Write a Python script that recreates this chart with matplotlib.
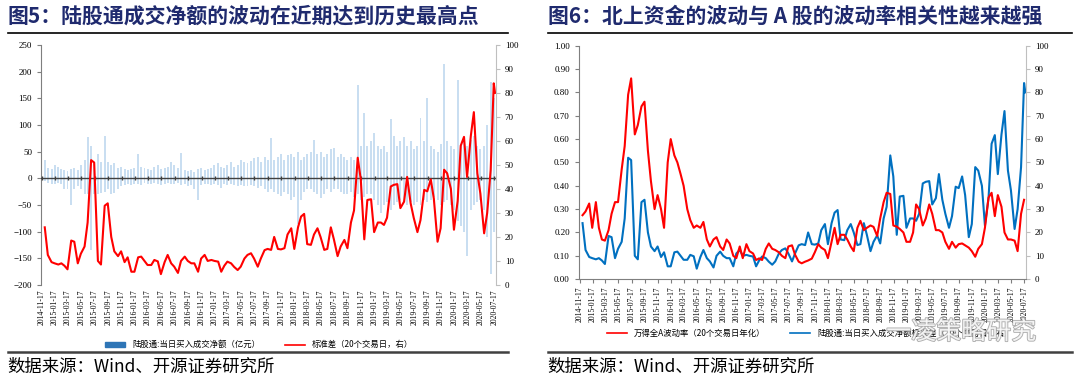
import pandas as pd
import numpy as np
import matplotlib
matplotlib.use("Agg")
import matplotlib.pyplot as plt
from matplotlib.patches import Patch
from matplotlib.lines import Line2D
import matplotlib.patheffects as pe

plt.rcParams['font.family'] = ['Liberation Serif', 'Noto Sans CJK SC', 'DejaVu Sans']
CJK = ['Noto Sans CJK SC', 'DejaVu Sans']

# ========== 数据（半月采样，读图估计） ==========
dates = pd.date_range('2014-11-15', periods=137, freq='SMS')
std_dates = dates.append(pd.DatetimeIndex(['2020-07-21']))
tick_dates = pd.date_range('2014-11-17', '2020-07-17', freq=pd.DateOffset(months=2))

# 陆股通:当日买入成交净额标准差（20个交易日）
std20 = [np.nan, 24, 12.5, 9.5, 9, 8.5, 9, 8, 6.5, 18.5, 18, 9, 13, 16, 26, 52, 51, 10, 8.5, 33,
         34, 20, 14, 12, 14, 9.5, 11.5, 5.5, 5.5, 11.5, 11.8, 10, 8.3, 8.3, 10.4, 9.8, 4.5, 9.5, 12.5, 9,
         7.6, 5, 10, 11.8, 10, 9, 9, 5.5, 11, 12.5, 10, 10.4, 10, 9.7, 5.5, 8, 9.7, 9, 7.5, 6.2,
         7.6, 11, 12.5, 13.2, 11, 7.6, 11, 14.5, 15, 14.6, 20, 15, 14.8, 15.3, 21, 23.6, 15, 24, 28.5, 29.6,
         17, 16.7, 21, 23.6, 20, 14.6, 15, 24, 19, 12, 16, 18.75, 15.3, 26, 31, 53, 44, 19, 35.4, 35.7,
         22, 26, 26, 25, 28, 41, 41.7, 42, 32, 34.7, 45, 34, 28, 22, 27, 39.6, 39, 44, 36, 18,
         23.6, 48, 46.5, 40, 23, 35, 58, 61.7, 45, 62, 72, 46.5, 38, 21.5, 30, 48, 84, 80]

# 万得全A波动率（20个交易日年化）
wind_vol = [np.nan, 0.274, 0.29, 0.324, 0.22, 0.33, 0.22, 0.17, 0.165, 0.21, 0.28, 0.33, 0.33, 0.47, 0.57, 0.79,
            0.86, 0.62, 0.66, 0.74, 0.76, 0.55, 0.42, 0.30, 0.36, 0.30, 0.22, 0.50, 0.60, 0.53, 0.50, 0.45,
            0.40, 0.30, 0.253, 0.22, 0.23, 0.22, 0.245, 0.17, 0.14, 0.17, 0.18, 0.14, 0.125, 0.17, 0.153, 0.10,
            0.09, 0.14, 0.09, 0.15, 0.12, 0.11, 0.082, 0.089, 0.082, 0.13, 0.153, 0.13, 0.125, 0.115, 0.10, 0.09,
            0.14, 0.145, 0.105, 0.075, 0.068, 0.075, 0.08, 0.088, 0.115, 0.15, 0.135, 0.125, 0.09, 0.16, 0.22, 0.15,
            0.19, 0.19, 0.17, 0.14, 0.12, 0.22, 0.25, 0.21, 0.22, 0.23, 0.224, 0.185, 0.26, 0.33, 0.37, 0.365,
            0.23, 0.225, 0.215, 0.20, 0.16, 0.16, 0.20, 0.32, 0.30, 0.23, 0.26, 0.32, 0.28, 0.21, 0.21, 0.20,
            0.16, 0.13, 0.16, 0.135, 0.15, 0.153, 0.145, 0.135, 0.12, 0.096, 0.13, 0.15, 0.22, 0.35, 0.37, 0.27,
            0.36, 0.31, 0.20, 0.17, 0.17, 0.165, 0.12, 0.28, 0.34]

# 陆股通:当日买入成交净额（亿元），每半月的最高/最低
net_hi = [50, 35, 20, 18, 25, 22, 18, 15, 14, 18, 20, 16, 25, 35, 78, 60, 30, 45, 30, 80,
          30, 25, 28, 20, 22, 18, 15, 18, 20, 45, 22, 20, 18, 16, 22, 25, 18, 20, 22, 30,
          25, 20, 47, 15, 14, 15, 12, 18, 20, 15, 18, 20, 25, 29, 22, 20, 25, 30, 22, 25,
          35, 30, 28, 32, 38, 40, 30, 40, 35, 75, 35, 40, 45, 35, 44, 45, 40, 50, 35, 40,
          45, 50, 72, 45, 50, 40, 45, 55, 56, 40, 45, 40, 35, 40, 35, 175, 60, 122, 60, 70,
          84, 60, 55, 60, 50, 112, 80, 60, 70, 78, 60, 70, 55, 60, 113, 70, 150, 60, 55, 50,
          65, 215, 70, 60, 55, 184, 60, 70, 60, 72, 80, 60, 55, 60, 100, 180, 150]
net_lo = [-3, -5, -8, -10, -10, -8, -10, -20, -20, -50, -20, -15, -20, -30, -30, -135, -30, -30, -28, -25,
          -20, -30, -28, -20, -15, -12, -10, -12, -10, -10, -12, -8, -10, -10, -8, -10, -12, -10, -8, -10,
          -10, -8, -12, -10, -15, -12, -20, -40, -12, -10, -10, -12, -10, -12, -19, -10, -12, -10, -12, -15,
          -12, -15, -15, -12, -15, -18, -15, -20, -25, -20, -25, -30, -34, -25, -30, -40, -35, -85, -40, -25,
          -20, -20, -25, -30, -37, -30, -20, -25, -20, -20, -25, -30, -30, -25, -35, -30, -40, -35, -30, -30,
          -40, -50, -65, -50, -45, -60, -50, -45, -40, -45, -50, -45, -50, -45, -50, -40, -45, -40, -35, -40,
          -50, -45, -40, -50, -60, -80, -90, -100, -146, -60, -50, -45, -40, -60, -110, -180, -100]

RED = '#ff0000'
BLUE = '#0070c0'
BAR = '#2e75b6'

fig = plt.figure(figsize=(10.8, 3.84), dpi=100)


def style_dates(ax):
    ax.set_xticks(tick_dates)
    ax.set_xticklabels([d.strftime('%Y-%m-%d') for d in tick_dates], rotation=90, fontsize=5.5)
    ax.set_xlim(pd.Timestamp('2014-11-14'), pd.Timestamp('2020-07-24'))


# ========== 图5 ==========
ax = fig.add_axes([0.038, 0.258, 0.421, 0.625])
w = 9
ax.bar(dates, net_hi, width=w, color='#9dc3e6', alpha=0.55, linewidth=0)
ax.bar(dates, net_lo, width=w, color='#9dc3e6', alpha=0.55, linewidth=0)
ax.axhline(0, color='#404040', lw=1.0, zorder=3)
ax.plot(tick_dates, np.zeros(len(tick_dates)), ls='none', marker='|', ms=3, color='#404040', zorder=3)
ax.set_ylim(-200, 250)
ax.set_yticks(range(-200, 251, 50))
style_dates(ax)
ax.tick_params(axis='x', length=0, pad=3)
ax.tick_params(axis='y', labelsize=6.5, length=3, color='#7f7f7f')
for s in ['top', 'bottom', 'right']:
    ax.spines[s].set_visible(False)
ax.spines['left'].set_color('#7f7f7f')

ax2 = ax.twinx()
ax2.plot(std_dates, std20, color=RED, lw=1.5)
ax2.set_ylim(0, 100)
ax2.set_yticks(range(0, 101, 10))
ax2.tick_params(axis='y', labelsize=6.5, length=3, color='#bfbfbf')
for s in ['top', 'bottom', 'left']:
    ax2.spines[s].set_visible(False)
ax2.spines['right'].set_color('#bfbfbf')

fig.legend([Patch(color=BAR), Line2D([], [], color=RED, lw=1.2)],
           ['陆股通:当日买入成交净额（亿元）', '标准差（20个交易日，右）'],
           loc='center', bbox_to_anchor=(0.24, 0.102), ncol=2, frameon=False,
           prop={'family': CJK, 'size': 6}, columnspacing=3, handlelength=2.4, handleheight=0.5)

# ========== 图6 ==========
bx = fig.add_axes([0.536, 0.273, 0.414, 0.608])
bx.plot(dates, wind_vol, color=RED, lw=1.5, zorder=3)
bx.set_ylim(0, 1)
bx.set_yticks(np.arange(0, 1.01, 0.1))
bx.set_yticklabels(['%.2f' % v for v in np.arange(0, 1.01, 0.1)])
style_dates(bx)
bx.tick_params(axis='x', length=3, color='#7f7f7f', pad=2)
bx.tick_params(axis='y', labelsize=6.5, length=3, color='#7f7f7f')
for s in ['top', 'right']:
    bx.spines[s].set_visible(False)
bx.spines['left'].set_color('#7f7f7f')
bx.spines['bottom'].set_color('#7f7f7f')

bx2 = bx.twinx()
bx2.plot(std_dates, std20, color=BLUE, lw=1.5)
bx2.set_ylim(0, 100)
bx2.set_yticks(range(0, 101, 10))
bx2.tick_params(axis='y', labelsize=6.5, length=3, color='#bfbfbf')
for s in ['top', 'bottom', 'left']:
    bx2.spines[s].set_visible(False)
bx2.spines['right'].set_color('#bfbfbf')
bx.set_zorder(bx2.get_zorder() + 1)
bx.patch.set_visible(False)

fig.legend([Line2D([], [], color=RED, lw=1.2), Line2D([], [], color=BLUE, lw=1.2)],
           ['万得全A波动率（20个交易日年化）', '陆股通:当日买入成交净额标准差（20个交易日，右）'],
           loc='center', bbox_to_anchor=(0.75, 0.133), ncol=2, frameon=False,
           prop={'family': CJK, 'size': 6}, columnspacing=3, handlelength=2.4)

# 水印
fig.text(0.89, 0.135, '一凌策略研究', family=CJK, fontsize=18, color='white', ha='center', va='center',
         zorder=10, alpha=0.85, path_effects=[pe.withStroke(linewidth=1.3, foreground='#a0a0a0')])

# ========== 标题、分隔线、来源 ==========
NAVY = '#1f2a6e'
fig.text(0.007, 0.958, '图5：陆股通成交净额的波动在近期达到历史最高点', family=CJK, fontsize=15,
         fontweight='bold', color=NAVY, va='center')
fig.text(0.507, 0.958, '图6：北上资金的波动与 A 股的波动率相关性越来越强', family=CJK, fontsize=15,
         fontweight='bold', color=NAVY, va='center')
for x0, x1 in [(0.007, 0.470), (0.507, 0.993)]:
    fig.add_artist(Line2D([x0, x1], [0.914, 0.914], color='black', lw=1.2))
    fig.add_artist(Line2D([x0, x1], [0.083, 0.083], color='#404040', lw=1.8))
fig.text(0.007, 0.045, '数据来源：Wind、开源证券研究所', family=CJK, fontsize=12.5, color='black', va='center')
fig.text(0.507, 0.045, '数据来源：Wind、开源证券研究所', family=CJK, fontsize=12.5, color='black', va='center')

fig.savefig('out.png', dpi=100)
plt.close(fig)
